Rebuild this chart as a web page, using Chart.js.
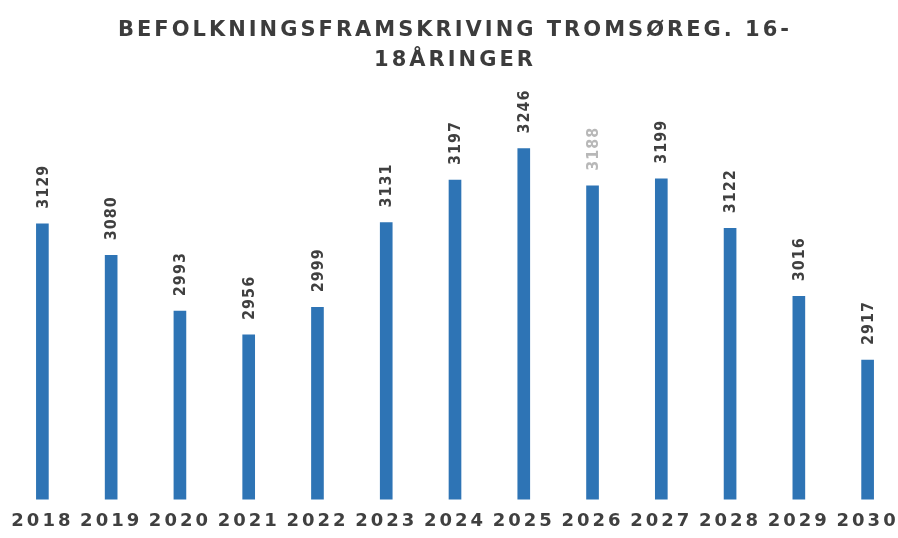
<!DOCTYPE html>
<html>
<head>
<meta charset="utf-8">
<script src="https://cdn.jsdelivr.net/npm/chart.js@4/dist/chart.umd.min.js"></script>
<style>
  html, body { margin: 0; padding: 0; background: #fff; overflow: hidden; }
  #wrap { width: 904px; height: 538px; }
</style>
</head>
<body>
<div id="wrap"><canvas id="chart"></canvas></div>
<script>
// data
const years = ['2018', '2019', '2020', '2021', '2022', '2023', '2024', '2025', '2026', '2027', '2028', '2029', '2030'];
const persons = [3129, 3080, 2993, 2956, 2999, 3131, 3197, 3246, 3188, 3199, 3122, 3016, 2917];
const titleLines = ['BEFOLKNINGSFRAMSKRIVING TROMSØREG. 16-', '18ÅRINGER'];

// wide letter spacing for title and year labels
const spacing = {
    id: 'spacing',
    beforeDraw(chart, args, opts) {
        chart.ctx.letterSpacing = opts.px + 'px';
    }
};

// value labels, turned on their side above each bar
const barLabels = {
    id: 'barLabels',
    afterDatasetsDraw(chart, args, opts) {
        const ctx = chart.ctx;
        const meta = chart.getDatasetMeta(0);
        ctx.save();
        ctx.font = opts.font;
        ctx.letterSpacing = opts.spacing;
        ctx.textAlign = 'left';
        ctx.textBaseline = 'middle';
        meta.data.forEach(function (bar, i) {
            ctx.save();
            ctx.translate(bar.x + 1, bar.y - opts.gap);
            ctx.rotate(-Math.PI / 2);
            ctx.fillStyle = (opts.faded.indexOf(i) >= 0) ? opts.fadedColor : opts.color;
            ctx.fillText(String(chart.data.datasets[0].data[i]), 0, 0);
            ctx.restore();
        });
        ctx.restore();
    }
};

new Chart(document.getElementById('chart'), {
    type: 'bar',
    data: {
        labels: years,
        datasets: [{
            data: persons,
            backgroundColor: '#2e74b5',
            barThickness: 12
        }]
    },
    options: {
        responsive: true,
        maintainAspectRatio: false,
        animation: false,
        layout: { padding: { left: 8, right: 2, top: 0, bottom: -5 } },
        scales: {
            x: {
                grid: { display: false, drawTicks: false },
                border: { display: false },
                ticks: {
                    color: '#404040',
                    padding: 11,
                    maxRotation: 0,
                    autoSkip: false,
                    font: { family: 'DejaVu Sans', size: 18, weight: 'bold' }
                }
            },
            y: {
                display: false,
                min: 2700,
                max: 3300
            }
        },
        plugins: {
            legend: { display: false },
            tooltip: { enabled: false },
            title: {
                display: true,
                text: titleLines,
                color: '#3c3c3c',
                font: { family: 'DejaVu Sans', size: 21, weight: 'bold', lineHeight: 1.45 },
                padding: { top: 15, bottom: 38 }
            },
            spacing: { px: 3 },
            barLabels: {
                font: 'bold 16px "DejaVu Sans Condensed", "DejaVu Sans"',
                spacing: '1px',
                color: '#404040',
                faded: [8],
                fadedColor: '#b8b8b8',
                gap: 15
            }
        }
    },
    plugins: [spacing, barLabels]
});
</script>
</body>
</html>
